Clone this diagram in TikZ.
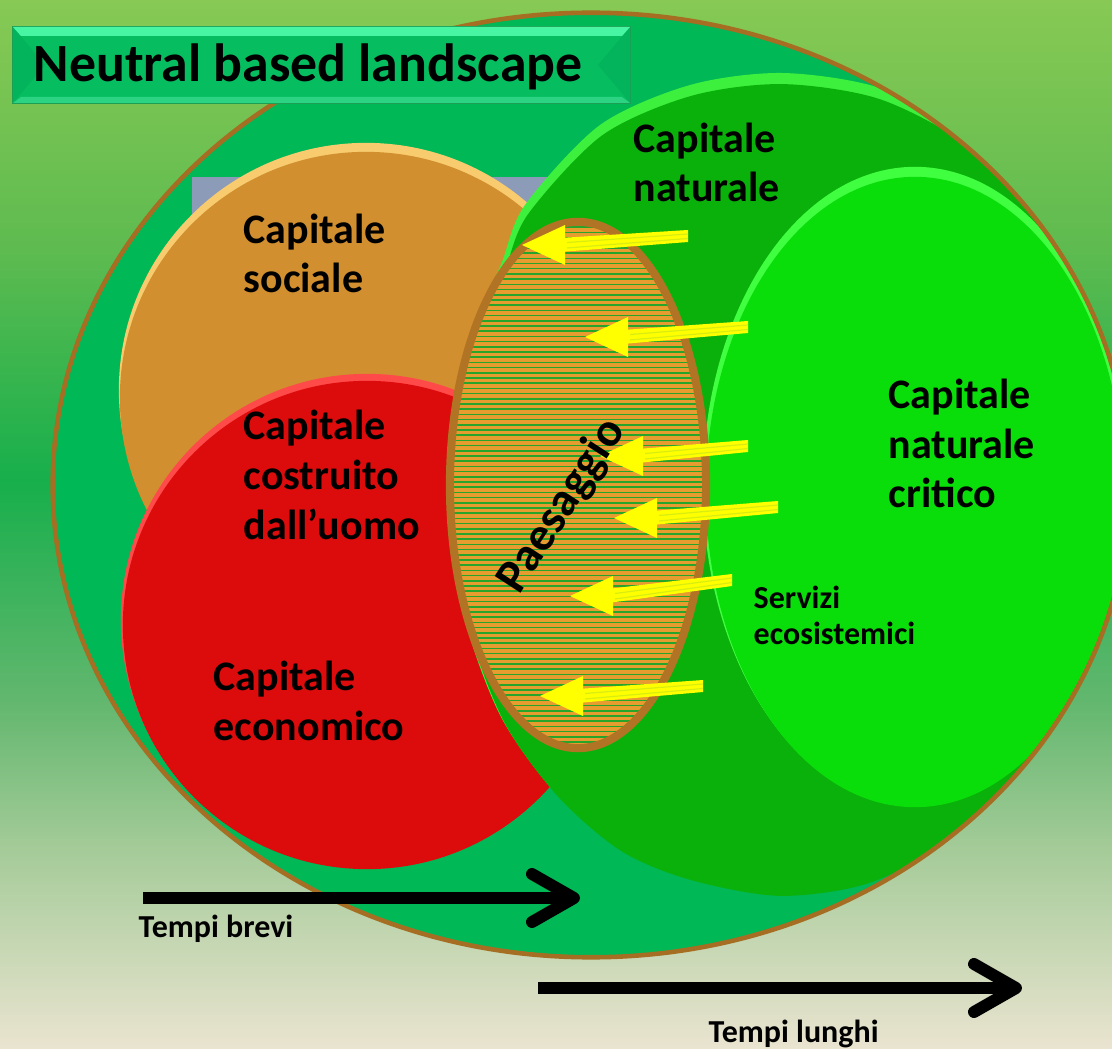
\documentclass[tikz,border=0pt]{standalone}
\usepackage{fontspec}
\setmainfont{Carlito}
\usetikzlibrary{calc}

% palette
\definecolor{bgTop}{HTML}{87C954}
\definecolor{bgB}{HTML}{5EBB50}
\definecolor{bgMid}{HTML}{17AF4C}
\definecolor{bgD}{HTML}{62B76E}
\definecolor{bgC}{HTML}{A5CB99}
\definecolor{bgBot}{HTML}{EAE4D0}
\definecolor{outerGreen}{HTML}{00B856}
\definecolor{brownEdge}{HTML}{A56E22}
\definecolor{blueRect}{HTML}{8C9BB8}
\definecolor{orangeRim}{HTML}{F7CB6E}
\definecolor{orangeMain}{HTML}{D28F2F}
\definecolor{redRim}{HTML}{FF4A4A}
\definecolor{redMain}{HTML}{DC0C0C}
\definecolor{natRim}{HTML}{3DF03D}
\definecolor{natMain}{HTML}{0BB10B}
\definecolor{critRim}{HTML}{40FF40}
\definecolor{critMain}{HTML}{0ADE0A}
\definecolor{paesOrange}{HTML}{E69C2F}
\definecolor{paesLine}{HTML}{27A42A}
\definecolor{paesEdge}{HTML}{B07424}
\definecolor{arrowYellow}{HTML}{FFFF00}
\definecolor{streak}{HTML}{D9EE10}
\definecolor{titleBody}{HTML}{06BD60}
\definecolor{titleTop}{HTML}{48F5A2}
\definecolor{titleBottom}{HTML}{2BD383}
\definecolor{titleSide}{HTML}{04B45C}
\definecolor{titleEdge}{HTML}{1A9F55}

\pgfdeclareverticalshading{bgshade}{100bp}{color(0bp)=(bgBot); color(25bp)=(bgBot);
  color(34.5bp)=(bgC); color(41.6bp)=(bgD); color(52.1bp)=(bgMid);
  color(63.1bp)=(bgB); color(75bp)=(bgTop); color(100bp)=(bgTop)}

% outline of the natural capital region
\def\natpath{plot[smooth cycle] coordinates {(782,73) (880,88) (970,135) (1050,210)
  (1110,320) (1140,480) (1110,640) (1030,765) (955,835) (870,880) (780,893)
  (690,877) (620,848) (555,792) (500,715) (463,610) (451,480) (468,370)
  (486,300) (502,262) (525,205) (600,125) (690,85)}}

\tikzset{
  biglabel/.style={anchor=base west, inner sep=0pt, align=left,
    font=\fontsize{11.95}{14.2}\selectfont\bfseries},
  smalllabel/.style={anchor=base west, inner sep=0pt, align=left,
    font=\fontsize{9.1}{10.2}\selectfont\bfseries},
  timeline/.style={line width=3.4pt, black},
  chevron/.style={line width=3.4pt, black, line cap=round, line join=round},
}

\begin{document}
\begin{tikzpicture}[x=0.01cm, y=-0.01cm]
\useasboundingbox (0,0) rectangle (1112,1049);

% backdrop
\shade[shading=bgshade] (0,0) rectangle (1112,1049);

% outer landscape ellipse
\fill[outerGreen] (591,485) ellipse [x radius=5.38cm, y radius=4.72cm];

% grey-blue strip behind the social capital disc
\fill[blueRect] (192,177) rectangle (556,320);

% social capital
\fill[orangeRim] (366,390) circle [radius=2.47cm];
\fill[orangeMain] (366,398) circle [radius=2.46cm];

% built and economic capital
\fill[redRim] (367,620) circle [radius=2.46cm];
\fill[redMain] (367,625) circle [radius=2.44cm];

\begin{scope}
  \clip (591,485) ellipse [x radius=5.38cm, y radius=4.72cm];
  % natural capital
  \fill[natRim] \natpath;
  \begin{scope}[shift={(790,488)}, scale=0.99, shift={(-790,-481)}]
    \fill[natMain] \natpath;
  \end{scope}
  % critical natural capital
  \fill[critRim] (915,486) ellipse [x radius=2.12cm, y radius=3.19cm];
  \fill[critMain] (915,492) ellipse [x radius=2.09cm, y radius=3.15cm];
\end{scope}
\draw[line width=1.3pt, brownEdge] (591,485) ellipse [x radius=5.38cm, y radius=4.72cm];

% landscape: striped ellipse
\begin{scope}
  \clip (578,485) ellipse [x radius=1.28cm, y radius=2.63cm];
  \fill[paesOrange] (440,210) rectangle (720,760);
  \foreach \k in {0,...,104}
    \draw[paesLine, line width=0.4pt] (440,222+\k*5.2) -- (720,222+\k*5.2);
\end{scope}
\draw[paesEdge, line width=2.3pt] (578,485) ellipse [x radius=1.28cm, y radius=2.63cm];

% ecosystem service flows
\foreach \tx/\ty/\sx/\sy in {522/245/688/236, 585/337/748/327, 600/456/748/446,
                             614/518/778/507, 570/596/732/580, 540/696/703/686}{
  \fill[arrowYellow] (\tx,\ty) -- (\tx+43,\ty-20) -- (\tx+43,\ty+20) -- cycle;
  \fill[arrowYellow] (\tx+38,\ty-7) -- (\sx,\sy-6) -- (\sx,\sy+6) -- (\tx+38,\ty+7) -- cycle;
  \draw[streak, line width=0.35pt] (\tx+45,\ty-2.5) -- (\sx,\sy-2);
  \draw[streak, line width=0.35pt] (\tx+45,\ty+3) -- (\sx,\sy+2.5);
}

\node[rotate=57, inner sep=0pt, font=\fontsize{13.5}{15}\selectfont\bfseries]
  (paes) at (562,506) {Paesaggio};

% title banner
\fill[titleBody, draw=titleEdge, line width=0.4pt] (13,27) rectangle (630,103);
\fill[titleSide] (13,27) -- (45,65) -- (13,103) -- cycle;
\fill[titleSide] (630,27) -- (598,65) -- (630,103) -- cycle;
\fill[titleTop] (13,27) -- (630,27) -- (622,36) -- (21,36) -- cycle;
\fill[titleBottom] (13,103) -- (630,103) -- (622,97) -- (21,97) -- cycle;
\node[anchor=base west, inner sep=0pt, font=\fontsize{15.3}{18}\selectfont\bfseries]
  (title) at (33,82) {Neutral based landscape};

% labels (anchored on the baseline of their last line)
\node[biglabel] (soc) at (243,293) {Capitale\\sociale};
\node[biglabel] (nat) at (633,202) {Capitale\\naturale};
\node[biglabel] (cos) at (243,539) {Capitale\\costruito\\dall’uomo};
\node[biglabel] (eco) at (213,740) {Capitale\\economico};
\node[biglabel] (cri) at (888,508) {Capitale\\naturale\\critico};
\node[smalllabel] (serv) at (753,644) {Servizi\\ecosistemici};

% time scales
\coordinate (b0) at (143,898);
\coordinate (b1) at (574,898);
\draw[timeline] (b0) -- (b1);
\draw[chevron] ($(b1)+(-42,-24)$) -- (b1) -- ($(b1)+(-42,24)$);
\node[smalllabel] (brevi) at (138,937) {Tempi brevi};

\coordinate (l0) at (538,988);
\coordinate (l1) at (1016,988);
\draw[timeline] (l0) -- (l1);
\draw[chevron] ($(l1)+(-42,-24)$) -- (l1) -- ($(l1)+(-42,24)$);
\node[smalllabel] (lunghi) at (708,1042) {Tempi lunghi};
\end{tikzpicture}
\end{document}
